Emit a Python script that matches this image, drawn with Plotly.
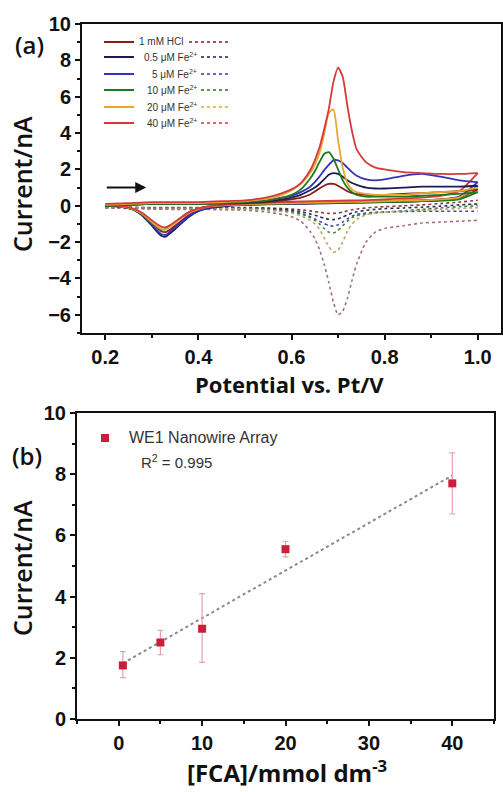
import plotly.graph_objects as go

# ---------------- Panel (a) data: cyclic voltammograms ----------------
SERIES_NAMES = ["1 mM HCl", "0.5 μM Fe<sup>2+</sup>", "5 μM Fe<sup>2+</sup>",
                "10 μM Fe<sup>2+</sup>", "20 μM Fe<sup>2+</sup>", "40 μM Fe<sup>2+</sup>"]

E_FWD = [0.20, 0.25, 0.30, 0.35, 0.40, 0.45, 0.50, 0.55, 0.58, 0.60, 0.62, 0.64, 0.65, 0.66, 0.67,
         0.68, 0.69, 0.70, 0.71, 0.72, 0.73, 0.74, 0.76, 0.78, 0.80, 0.84, 0.88, 0.92, 0.96, 1.00]
E_REV = [1.00, 0.96, 0.92, 0.88, 0.84, 0.80, 0.75, 0.70, 0.65, 0.60, 0.55, 0.50, 0.46, 0.42, 0.40,
         0.38, 0.36, 0.34, 0.33, 0.32, 0.30, 0.28, 0.26, 0.24, 0.22, 0.20]

HCL_FWD = [0.00, 0.05, 0.10, 0.10, 0.10, 0.12, 0.15, 0.20, 0.28, 0.35, 0.45, 0.62, 0.78, 0.95, 1.10,
           1.20, 1.20, 1.10, 0.95, 0.80, 0.70, 0.65, 0.60, 0.60, 0.60, 0.65, 0.70, 0.75, 0.80, 0.90]
F05_FWD = [0.00, 0.05, 0.10, 0.12, 0.12, 0.15, 0.18, 0.25, 0.35, 0.45, 0.60, 0.85, 1.00, 1.20, 1.45,
           1.70, 1.80, 1.75, 1.60, 1.40, 1.25, 1.15, 1.00, 0.95, 0.95, 1.00, 1.05, 1.05, 1.05, 1.10]
F5_FWD = [0.05, 0.10, 0.15, 0.15, 0.15, 0.18, 0.22, 0.30, 0.45, 0.55, 0.75, 1.05, 1.30, 1.60, 1.95,
          2.25, 2.50, 2.50, 2.35, 2.10, 1.85, 1.65, 1.45, 1.40, 1.45, 1.65, 1.75, 1.60, 1.40, 1.30]
F10_FWD = [0.00, 0.05, 0.10, 0.10, 0.10, 0.15, 0.20, 0.30, 0.45, 0.60, 0.90, 1.50, 1.90, 2.40, 2.85,
           2.95, 2.60, 2.00, 1.40, 1.00, 0.75, 0.60, 0.50, 0.50, 0.50, 0.50, 0.55, 0.60, 0.65, 0.75]
F20_FWD = [0.05, 0.10, 0.15, 0.15, 0.15, 0.20, 0.25, 0.40, 0.60, 0.85, 1.20, 1.80, 2.25, 2.90, 3.90,
           5.10, 5.30, 3.60, 2.10, 1.25, 0.90, 0.75, 0.65, 0.60, 0.60, 0.60, 0.70, 0.75, 0.80, 1.00]
F40_FWD = [0.10, 0.15, 0.20, 0.20, 0.20, 0.25, 0.30, 0.48, 0.70, 0.90, 1.25, 1.95, 2.50, 3.20, 4.20,
           5.30, 6.80, 7.60, 7.10, 5.50, 4.10, 3.10, 2.40, 2.10, 2.00, 1.85, 1.80, 1.75, 1.75, 1.80]

HCL_REV = [0.90, 0.45, 0.35, 0.30, 0.28, 0.25, 0.22, 0.20, 0.18, 0.15, 0.12, 0.08, 0.02, -0.10, -0.25,
           -0.50, -0.90, -1.30, -1.45, -1.40, -0.95, -0.50, -0.20, -0.08, -0.02, 0.00]
F05_REV = [1.10, 0.40, 0.30, 0.25, 0.22, 0.20, 0.18, 0.15, 0.12, 0.10, 0.08, 0.05, -0.02, -0.15, -0.30,
           -0.60, -1.05, -1.50, -1.70, -1.65, -1.10, -0.55, -0.22, -0.08, -0.02, 0.00]
F5_REV = [1.30, 0.50, 0.35, 0.30, 0.25, 0.22, 0.20, 0.18, 0.15, 0.12, 0.10, 0.06, 0.00, -0.12, -0.28,
          -0.55, -1.00, -1.40, -1.60, -1.55, -1.05, -0.52, -0.20, -0.07, -0.02, 0.00]
F10_REV = [0.75, 0.35, 0.28, 0.25, 0.22, 0.20, 0.18, 0.16, 0.14, 0.12, 0.10, 0.07, 0.03, -0.05, -0.15,
           -0.35, -0.70, -1.10, -1.28, -1.30, -0.95, -0.50, -0.20, -0.08, -0.02, 0.00]
F20_REV = [1.00, 0.45, 0.35, 0.30, 0.28, 0.25, 0.22, 0.20, 0.18, 0.15, 0.12, 0.08, 0.03, -0.06, -0.18,
           -0.40, -0.75, -1.15, -1.30, -1.28, -0.90, -0.45, -0.18, -0.06, -0.01, 0.02]
F40_REV = [1.80, 0.80, 0.55, 0.45, 0.40, 0.35, 0.30, 0.28, 0.25, 0.22, 0.18, 0.12, 0.06, -0.04, -0.15,
           -0.35, -0.70, -1.05, -1.18, -1.15, -0.80, -0.40, -0.15, -0.03, 0.03, 0.08]

# collector (dotted) currents, on the E_FWD grid
HCL_COL = [-0.05, -0.08, -0.10, -0.10, -0.10, -0.10, -0.10, -0.12, -0.15, -0.18, -0.22, -0.28, -0.32, -0.36, -0.40,
           -0.42, -0.42, -0.40, -0.35, -0.28, -0.22, -0.18, -0.12, -0.08, -0.05, 0.00, 0.05, 0.12, 0.20, 0.30]
F05_COL = [-0.08, -0.10, -0.12, -0.12, -0.12, -0.12, -0.13, -0.15, -0.20, -0.25, -0.32, -0.45, -0.52, -0.60, -0.68,
           -0.74, -0.76, -0.72, -0.62, -0.50, -0.40, -0.33, -0.25, -0.20, -0.16, -0.12, -0.08, -0.02, 0.05, 0.10]
F5_COL = [-0.10, -0.12, -0.15, -0.15, -0.15, -0.15, -0.16, -0.20, -0.26, -0.32, -0.42, -0.60, -0.72, -0.85, -0.98,
          -1.08, -1.12, -1.05, -0.90, -0.72, -0.58, -0.48, -0.40, -0.36, -0.34, -0.32, -0.30, -0.30, -0.30, -0.30]
F10_COL = [-0.08, -0.10, -0.12, -0.12, -0.12, -0.13, -0.15, -0.20, -0.28, -0.35, -0.45, -0.65, -0.80, -1.00, -1.25,
           -1.45, -1.50, -1.35, -1.10, -0.85, -0.65, -0.55, -0.45, -0.40, -0.35, -0.28, -0.20, -0.12, -0.05, 0.00]
F20_COL = [-0.10, -0.12, -0.15, -0.15, -0.15, -0.16, -0.18, -0.25, -0.32, -0.40, -0.55, -0.80, -1.00, -1.30, -1.75,
           -2.25, -2.55, -2.45, -2.00, -1.40, -1.00, -0.75, -0.50, -0.40, -0.35, -0.30, -0.25, -0.20, -0.15, -0.10]
F40_COL = [-0.12, -0.15, -0.18, -0.20, -0.20, -0.22, -0.25, -0.35, -0.48, -0.60, -0.85, -1.40, -1.80, -2.40, -3.20,
           -4.20, -5.30, -6.00, -5.80, -5.10, -4.10, -3.20, -2.00, -1.45, -1.25, -1.10, -0.95, -0.90, -0.85, -0.80]

FWD = [HCL_FWD, F05_FWD, F5_FWD, F10_FWD, F20_FWD, F40_FWD]
REV = [HCL_REV, F05_REV, F5_REV, F10_REV, F20_REV, F40_REV]
COL = [HCL_COL, F05_COL, F5_COL, F10_COL, F20_COL, F40_COL]

# ---------------- Panel (b) data: calibration ----------------
CONC = [0.5, 5, 10, 20, 40]
CURRENT = [1.75, 2.50, 2.95, 5.55, 7.70]
ERR_PLUS = [0.45, 0.40, 1.15, 0.25, 1.00]
ERR_MINUS = [0.40, 0.40, 1.10, 0.25, 1.00]
FIT_X = [0.5, 40]
FIT_Y = [1.82, 7.96]

# ---------------- styling ----------------
LINE_COLORS = ["#8b1c1c", "#1c1c55", "#3434b4", "#1e7a1e", "#e9a62e", "#d6383c"]
DOT_COLORS = ["#8b3c3c", "#2c2c60", "#4848a8", "#3c803c", "#b8a868", "#a07080"]

W, H = 503, 792
A_L, A_R, A_T, A_B = 82, 501, 24, 333
B_L, B_R, B_T, B_B = 77, 494, 413, 719


def px(x):
    return x / W


def py(y):
    return 1 - y / H


fig = go.Figure()

for i in range(6):
    fig.add_trace(go.Scatter(x=E_FWD, y=COL[i], mode="lines", xaxis="x", yaxis="y",
                             line=dict(color=DOT_COLORS[i], width=1.6, dash="dot", shape="spline", smoothing=0.6),
                             showlegend=False, hoverinfo="skip"))
for i in range(6):
    fig.add_trace(go.Scatter(x=E_REV, y=REV[i], mode="lines", xaxis="x", yaxis="y",
                             line=dict(color=LINE_COLORS[i], width=1.8, shape="spline", smoothing=0.6),
                             showlegend=False, hoverinfo="skip"))
for i in range(6):
    fig.add_trace(go.Scatter(x=E_FWD, y=FWD[i], mode="lines", xaxis="x", yaxis="y",
                             line=dict(color=LINE_COLORS[i], width=1.8, shape="spline", smoothing=0.6),
                             showlegend=False, hoverinfo="skip"))

# panel (b)
fig.add_trace(go.Scatter(x=FIT_X, y=FIT_Y, mode="lines", xaxis="x2", yaxis="y2",
                         line=dict(color="#8a8a8a", width=2, dash="dot"), showlegend=False))
fig.add_trace(go.Scatter(x=CONC, y=CURRENT, mode="markers", xaxis="x2", yaxis="y2",
                         marker=dict(symbol="square", size=8, color="#c8203a"),
                         error_y=dict(type="data", array=ERR_PLUS, arrayminus=ERR_MINUS,
                                      color="#e6a2aa", thickness=1.2, width=3),
                         showlegend=False))

tickfont = dict(family="Liberation Sans, Arial", size=20, color="#111", weight="bold")
axis_common = dict(showline=True, linecolor="#111", linewidth=2, mirror=True, ticks="outside",
                   ticklen=5, tickwidth=2, tickcolor="#111", showgrid=False, zeroline=False,
                   tickfont=tickfont)

fig.update_layout(
    width=W, height=H, margin=dict(l=0, r=0, t=0, b=0, autoexpand=False),
    paper_bgcolor="white", plot_bgcolor="white",
    xaxis=dict(domain=[A_L / W, A_R / W], range=[0.15, 1.05], tick0=0.2, dtick=0.2, tickformat=".1f",
               minor=dict(ticks="outside", dtick=0.1, tick0=0.2, ticklen=3, tickwidth=2, tickcolor="#111"),
               anchor="y", **axis_common),
    yaxis=dict(domain=[1 - A_B / H, 1 - A_T / H], range=[-7, 10], dtick=2,
               minor=dict(ticks="outside", dtick=1, ticklen=3, tickwidth=2, tickcolor="#111"),
               anchor="x", **axis_common),
    xaxis2=dict(domain=[B_L / W, B_R / W], range=[-5, 45], tick0=0, dtick=10,
                minor=dict(ticks="outside", dtick=5, tick0=0, ticklen=3, tickwidth=2, tickcolor="#111"),
                anchor="y2", **axis_common),
    yaxis2=dict(domain=[1 - B_B / H, 1 - B_T / H], range=[0, 10], dtick=2,
                minor=dict(ticks="outside", dtick=1, ticklen=3, tickwidth=2, tickcolor="#111"),
                anchor="x2", **axis_common),
)

title_font = dict(family="Open Sans", size=25, color="#111", weight=600)
C = dict(xref="paper", yref="paper", xanchor="center", yanchor="middle", showarrow=False)
ann = []
ann.append(dict(text="Current/nA", x=px(22), y=py(184), textangle=-90, font=title_font, **C))
ann.append(dict(text="Current/nA", x=px(22), y=py(568), textangle=-90, font=title_font, **C))
ann.append(dict(text="Potential vs. Pt/V", x=px(289), y=py(384),
                font=dict(family="Open Sans", size=22, color="#111", weight=700), **C))
ann.append(dict(text="[FCA]/mmol dm<sup>-3</sup>", x=px(287), y=py(771),
                font=dict(family="Open Sans", size=24, color="#111", weight=700), **C))
ann.append(dict(text="(a)", x=px(29), y=py(45),
                font=dict(family="Open Sans", size=24, color="#111", weight=600), **C))
ann.append(dict(text="(b)", x=px(27), y=py(455),
                font=dict(family="Open Sans", size=24, color="#111", weight=600), **C))

# sweep-direction arrow
ann.append(dict(x=0.288, y=1.0, ax=0.2, ay=1.0, xref="x", yref="y", axref="x", ayref="y",
                showarrow=True, arrowhead=2, arrowsize=1.1, arrowwidth=2, arrowcolor="#111", text=""))

# custom legend for panel (a)
shapes = []
rows_py = [42, 57, 74, 90, 107, 123]
legfont = dict(family="Liberation Sans, Arial", size=10, color="#333")
for i, yy in enumerate(rows_py):
    shapes.append(dict(type="line", xref="paper", yref="paper",
                       x0=px(104), x1=px(134), y0=py(yy), y1=py(yy),
                       line=dict(color=LINE_COLORS[i], width=2)))
    dx0 = 189 if i == 0 else 201
    shapes.append(dict(type="line", xref="paper", yref="paper",
                       x0=px(dx0), x1=px(228), y0=py(yy), y1=py(yy),
                       line=dict(color=LINE_COLORS[i], width=1.3, dash="dot")))
    if i == 0:
        ann.append(dict(text=SERIES_NAMES[i], xref="paper", yref="paper", x=px(137), y=py(yy),
                        xanchor="left", yanchor="middle", showarrow=False, font=legfont))
    else:
        ann.append(dict(text=SERIES_NAMES[i], xref="paper", yref="paper", x=px(199), y=py(yy),
                        xanchor="right", yanchor="middle", showarrow=False, font=legfont))

# custom legend for panel (b)
shapes.append(dict(type="rect", xref="paper", yref="paper", x0=px(101), x1=px(109),
                   y0=py(442), y1=py(434), fillcolor="#c8203a", line=dict(width=0)))
ann.append(dict(text="WE1 Nanowire Array", xref="paper", yref="paper", x=px(127), y=py(438),
                xanchor="left", yanchor="middle", showarrow=False,
                font=dict(family="Liberation Sans, Arial", size=16, color="#333")))
ann.append(dict(text="R<sup>2</sup> = 0.995", xref="paper", yref="paper", x=px(139), y=py(461),
                xanchor="left", yanchor="middle", showarrow=False,
                font=dict(family="Liberation Sans, Arial", size=15, color="#333")))

fig.update_layout(annotations=ann, shapes=shapes)
fig.write_html("out.html")
